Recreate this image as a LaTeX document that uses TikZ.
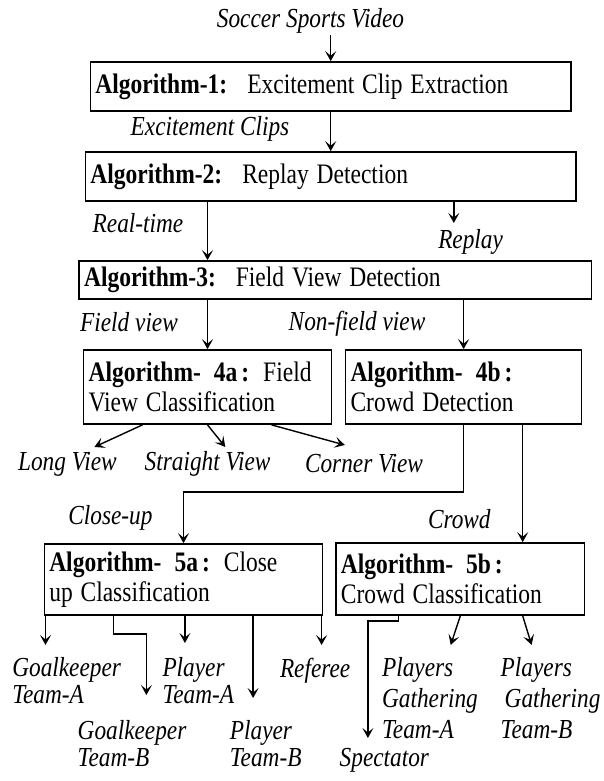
\documentclass[tikz,border=0pt]{standalone}
\usepackage{fontspec}
\setmainfont{Liberation Serif}
\usetikzlibrary{arrows.meta}

\newcommand{\alghead}[1]{\textbf{Algorithm-#1:}\hspace{20pt}}
\newcommand{\algsub}[1]{\textbf{Algorithm-\hspace{13pt}#1\hspace{4pt}:}\hspace{14pt}}

\begin{document}
\begin{tikzpicture}[x=1pt, y=-1pt,
                    >={Stealth[length=10pt,width=11pt,inset=4.5pt]},
                    line width=1.4pt,
                    algbox/.style={draw, rectangle, align=left, inner xsep=5pt, inner ysep=0pt,
                                   yscale=1.2, transform shape,
                                   font=\fontsize{23.5}{25}\selectfont},
                    lbl/.style={font=\fontsize{23.3}{22.5}\selectfont\itshape, inner sep=1pt,
                                yscale=1.18, transform shape},
                    leaf/.style={lbl, align=left, anchor=north west, inner sep=0pt},
                    gather/.style={leaf, font=\fontsize{23.3}{26}\selectfont\itshape}]

\useasboundingbox (0,0) rectangle (604,781);

% main chain
\node[algbox, text width=470.5pt, minimum height=40.8pt] (a1) at (330.7,86.5) {\alghead{1}Excitement Clip Extraction};
\node[algbox, text width=480.5pt, minimum height=40.8pt] (a2) at (330.7,176.5) {\alghead{2}Replay Detection};
\node[algbox, text width=502.3pt, minimum height=31.7pt] (a3) at (335.2,280) {\alghead{3}Field View Detection};

\node[algbox, text width=237.7pt, minimum height=61.7pt] (a4a) at (207.5,387) {\algsub{4a}Field\\View Classification};
\node[algbox, text width=226.2pt, minimum height=61.7pt] (a4b) at (463.6,387) {\algsub{4b}\\Crowd Detection};

\node[algbox, text width=268.5pt, minimum height=59.2pt] (a5a) at (183.5,579.5) {\algsub{5a}Close\\up Classification};
\node[algbox, text width=238.8pt, minimum height=60pt] (a5b) at (460.3,579) {\algsub{5b}\\Crowd Classification};

% branch labels
\node[lbl] (video) at (310.5,21) {Soccer Sports Video};
\node[lbl] (clips) at (210,129) {Excitement Clips};
\node[lbl] (realtime) at (138,223) {Real-time};
\node[lbl] (replay) at (470.6,242) {Replay};
\node[lbl] (fieldv) at (129,322) {Field view};
\node[lbl] (nonfield) at (357,324) {Non-field view};
\node[lbl] (longv) at (67.4,464) {Long View};
\node[lbl] (straightv) at (207.6,464) {Straight View};
\node[lbl] (cornerv) at (364,464) {Corner View};
\node[lbl] (closeup) at (110.4,518) {Close-up};
\node[lbl] (crowd) at (459.3,519) {Crowd};

% outputs of the classifiers
\node[leaf] (gka) at (11.6,657) {Goalkeeper\\Team-A};
\node[leaf] (gkb) at (77,720) {Goalkeeper\\Team-B};
\node[leaf] (pla) at (161.8,657) {Player\\Team-A};
\node[leaf] (plb) at (229.2,720) {Player\\Team-B};
\node[leaf] (referee) at (279.3,657) {Referee};
\node[gather] (pga) at (381.4,657) {Players\\Gathering\\Team-A};
\node[gather] (pgb) at (500,657) {Players\\\hspace*{4pt}Gathering\\Team-B};
\node[leaf] (spectator) at (339,747) {Spectator};

\coordinate (replayend) at (453.8,223);
\coordinate (longend) at (94.4,447);
\coordinate (straightend) at (225.3,447);
\coordinate (cornerend) at (344.8,445);
\coordinate (gkaend) at (45.5,645);
\coordinate (gkbend) at (146.4,695);
\coordinate (plaend) at (184.9,643);
\coordinate (plbend) at (253.1,698);
\coordinate (refend) at (321.6,645);
\coordinate (specend) at (367.9,738);
\coordinate (pgaend) at (450.7,645);
\coordinate (pgbend) at (531.6,645);
\coordinate (crowdstart) at ([xshift=59.1pt]a4b.south);

\draw[->] (video.south -| a1.north) -- (a1.north);
\draw[->] (a1) -- (a2);
\draw[->] (a2.south -| a4a.north) -- (a3.north -| a4a.north);
\draw[->] (a2.south -| replayend) -- (replayend);
\draw[->] (a3.south -| a4a.north) -- (a4a.north);
\draw[->] (a3.south -| a4b.north) -- (a4b.north);

\draw[->] ([xshift=-65pt]a4a.south) -- (longend);
\draw[->] (a4a.south) -- (straightend);
\draw[->] ([xshift=64pt]a4a.south) -- (cornerend);

\draw[->] (a4b.south) -- ++(0,67) -| (a5a.north);
\draw[->] (crowdstart) -- (crowdstart |- a5b.north);

% close-up classes
\draw[->] (a5a.south -| gkaend) -- (gkaend);
\draw[->] ([xshift=-69.9pt]a5a.south) -- ++(0,18) -| (gkbend);
\draw[->] (a5a.south -| plaend) -- (plaend);
\draw[->] (a5a.south -| plbend) -- (plbend);
\draw[->] (a5a.south -| refend) -- (refend);

% crowd classes
\draw[->] ([xshift=-61.6pt]a5b.south) -- ++(0,5) -| (specend);
\draw[->] (a5b.south) -- (pgaend);
\draw[->] ([xshift=62.4pt]a5b.south) -- (pgbend);

\end{tikzpicture}
\end{document}
